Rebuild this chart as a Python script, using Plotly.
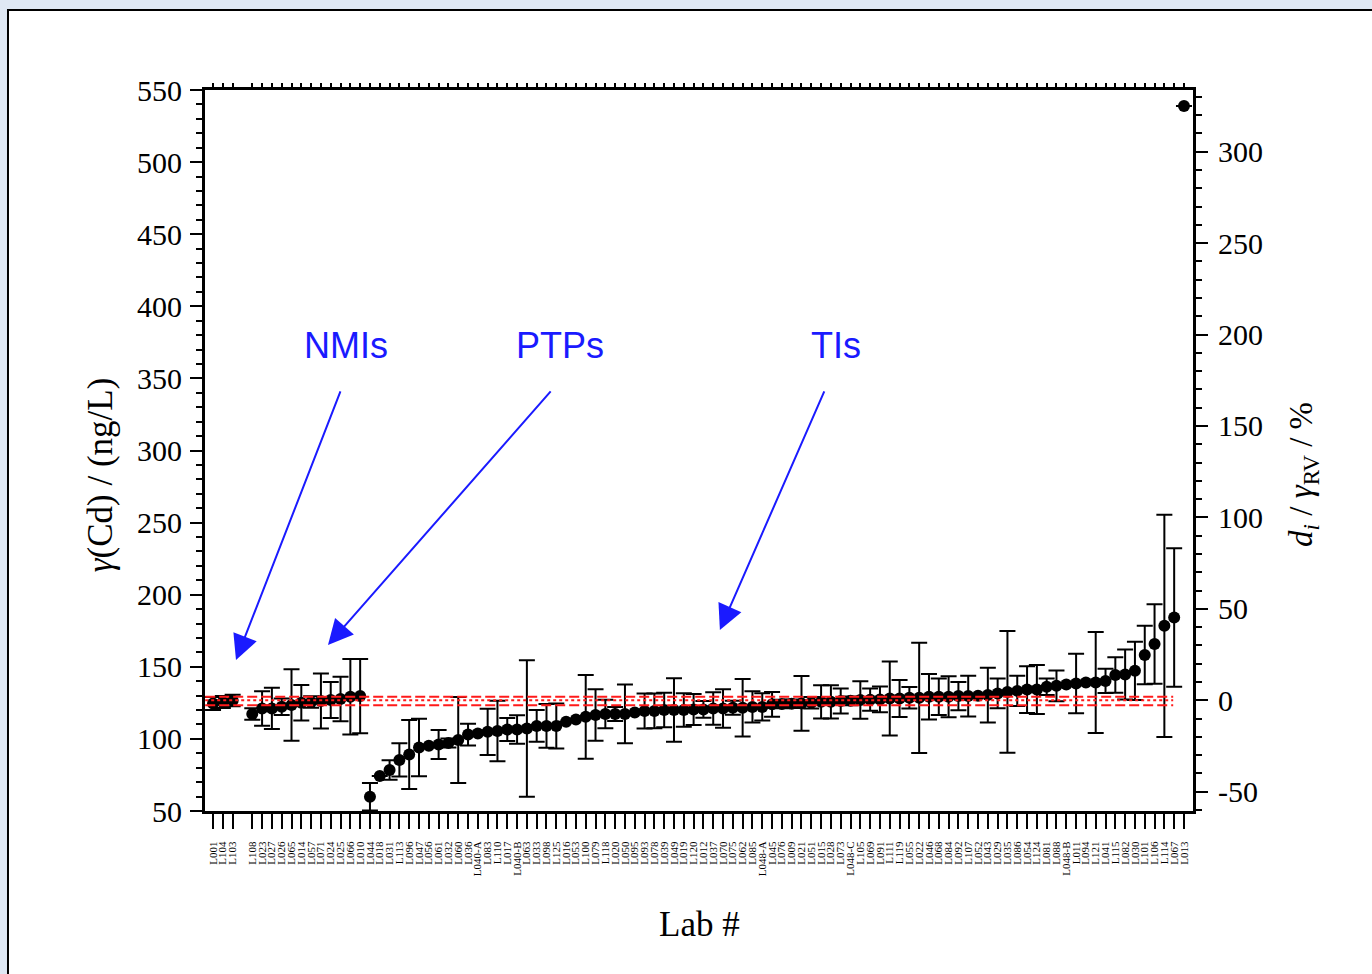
import plotly.graph_objects as go

# ---------------- data ----------------
labels = ["L001", "L104", "L103", "",
          "L108", "L023", "L027", "L026", "L065", "L014", "L057", "L071", "L024", "L025", "L066", "L010",
          "L044", "L018", "L031", "L113", "L096", "L047", "L056", "L061", "L032", "L060",
          "L036", "L040-A", "L083", "L110", "L017", "L040-B", "L063", "L033", "L098", "L125",
          "L016", "L053", "L100", "L079", "L118", "L020", "L050", "L095", "L093", "L078",
          "L039", "L049", "L019", "L120", "L012", "L037", "L070", "L075", "L062", "L085",
          "L048-A", "L045", "L076", "L009", "L021", "L051", "L015", "L028", "L073", "L048-C",
          "L105", "L069", "L091", "L111", "L119", "L055", "L022", "L046", "L068", "L084",
          "L092", "L107", "L052", "L043", "L029", "L035", "L086", "L054", "L124", "L081",
          "L088", "L048-B", "L011", "L094", "L121", "L041", "L115", "L082", "L030", "L101",
          "L106", "L114", "L067", "L013"]

values = [124.5, 125.6, 126.6, None,
          117.3, 121.1, 121.1, 122.3, 123.5, 125.0, 125.6, 126.3, 127.0, 127.7, 129.2, 129.7,
          59.9, 74.3, 78.4, 85.4, 89.2, 94.0, 95.2, 96.1, 97.2, 99.2,
          103.0, 103.7, 104.9, 105.5, 106.5, 106.5, 107.2, 109.0, 109.0, 109.0,
          111.9, 113.5, 115.3, 116.6, 117.3, 117.3, 117.3, 118.3, 119.3, 119.4,
          120.0, 120.0, 120.0, 120.4, 120.4, 121.1, 121.1, 121.6, 121.6, 122.2,
          122.2, 124.0, 124.2, 124.4, 124.6, 125.0, 125.7, 125.7, 126.3, 126.4,
          127.0, 127.2, 127.4, 128.0, 128.0, 128.5, 128.5, 129.2, 129.2, 129.2,
          129.7, 129.7, 129.9, 130.4, 131.5, 132.6, 133.3, 134.2, 134.2, 136.1,
          136.8, 137.7, 138.4, 139.1, 139.1, 140.2, 144.3, 144.7, 147.2, 158.2,
          165.8, 178.4, 184.2, 538.9]

uncertainty = [4.5, 4.2, 4.0, 0,
               4.0, 12.0, 14.3, 5.7, 24.8, 12.3, 4.0, 19.1, 12.5, 15.4, 26.2, 25.7,
               9.6, 0, 6.8, 11.5, 23.9, 19.9, 0, 10.1, 3.1, 29.8,
               7.5, 0, 16.0, 21.0, 8.0, 9.9, 47.4, 11.0, 15.2, 15.6,
               0, 0, 29.0, 17.9, 9.9, 4.9, 20.4, 0, 12.1, 12.1,
               12.0, 22.0, 11.6, 10.8, 5.8, 11.3, 13.3, 4.9, 20.0, 10.9,
               9.4, 8.6, 3.0, 3.0, 19.0, 4.0, 11.5, 11.5, 8.7, 3.0,
               13.0, 7.7, 9.0, 25.7, 12.8, 7.5, 38.2, 15.8, 12.7, 14.2,
               9.8, 14.1, 0, 19.0, 10.3, 42.2, 10.5, 16.2, 17.0, 5.7,
               10.7, 0, 20.6, 0, 35.0, 8.4, 12.3, 17.3, 20.2, 20.3,
               27.6, 77.0, 48.0, 0]

gamma_rv = 126.8          # reference value (ng/L)
ref_upper = 129.2
ref_lower = 123.4
ref_line_span = [0.2, 98.9]

y_range = [50, 550]
x_range = [0.18, 100.92]
d_ticks = [-50, 0, 50, 100, 150, 200, 250, 300]
d_ticktext = ["-50", "0", "50", "100", "150", "200", "250", "300"]

# ---------------- derived ----------------
positions = list(range(1, len(labels) + 1))
tick_pos = [p for p, l in zip(positions, labels) if l]
tick_txt = [l for l in labels if l]
d_range = [(y_range[0] / gamma_rv - 1) * 100, (y_range[1] / gamma_rv - 1) * 100]

SERIF = "Liberation Serif"
SANS = "Liberation Sans"
BLUE = "#1a1aff"
BG = "#dfe8f4"

fig = go.Figure()

fig.add_trace(go.Scatter(
    x=positions, y=values, mode="markers",
    marker=dict(color="black", size=12),
    error_y=dict(type="data", array=uncertainty, visible=True,
                 color="black", thickness=2, width=8),
    showlegend=False, hoverinfo="skip"))

for yv in (ref_upper, ref_lower):
    fig.add_trace(go.Scatter(
        x=ref_line_span, y=[yv, yv], mode="lines",
        line=dict(color="#ff1a1a", width=2, dash="10px,4px"),
        showlegend=False, hoverinfo="skip"))

# reference value line: d = 0 % on the right-hand scale
fig.add_trace(go.Scatter(
    x=ref_line_span, y=[0, 0], mode="lines", xaxis="x2", yaxis="y2",
    line=dict(color="#ff1a1a", width=2, dash="3px,3px"),
    showlegend=False, hoverinfo="skip"))

axis_common = dict(showgrid=False, zeroline=False, showline=True,
                   linecolor="black", linewidth=3, tickcolor="black")

fig.update_layout(
    width=1372, height=974,
    margin=dict(l=205, r=179, t=90, b=163, autoexpand=False),
    paper_bgcolor=BG, plot_bgcolor="white",
    xaxis=dict(range=x_range, tickmode="array", tickvals=tick_pos, ticktext=tick_txt,
               tickangle=-90, ticks="outside", ticklen=15, tickwidth=2,
               ticklabelstandoff=8, mirror=True,
               tickfont=dict(family=SERIF, size=11, color="black"), **axis_common),
    xaxis2=dict(range=x_range, overlaying="x", side="top", anchor="y",
                tickmode="array", tickvals=tick_pos, showticklabels=False,
                ticks="outside", ticklen=4, tickwidth=1.5, **axis_common),
    yaxis=dict(range=y_range, tickmode="linear", tick0=0, dtick=50,
               ticks="outside", ticklen=12, tickwidth=2, ticklabelstandoff=2,
               minor=dict(ticks="outside", ticklen=6, dtick=10, tick0=0, tickcolor="black", tickwidth=2),
               tickfont=dict(family=SERIF, size=30, color="black"), **axis_common),
    yaxis2=dict(range=d_range, overlaying="y", side="right", anchor="x",
                tickmode="array", tickvals=d_ticks, ticktext=d_ticktext,
                ticks="outside", ticklen=12, tickwidth=2, ticklabelstandoff=4,
                minor=dict(ticks="outside", ticklen=6, tickmode="linear", dtick=10, tick0=0,
                           tickcolor="black", tickwidth=2),
                tickfont=dict(family=SERIF, size=30, color="black"), **axis_common),
)

# slide-like frame behind the picture (left/top edges visible)
fig.add_shape(type="rect", xref="paper", yref="paper",
              x0=-0.1994, x1=1.3, y0=-0.35, y1=1.111,
              fillcolor="white", line=dict(color="black", width=2), layer="below")

# axis titles
fig.add_annotation(text="<i>γ</i>(Cd) / (ng/L)", xref="paper", yref="paper",
                   x=-0.1063, y=0.467, xanchor="center", yanchor="middle",
                   textangle=-90, showarrow=False,
                   font=dict(family=SERIF, size=35, color="black"))
fig.add_annotation(text="<i>d<sub>i</sub></i> / <i>γ</i><sub>RV</sub> / %", xref="paper", yref="paper",
                   x=1.112, y=0.467, xanchor="center", yanchor="middle",
                   textangle=-90, showarrow=False,
                   font=dict(family=SERIF, size=33, color="black"))
fig.add_annotation(text="Lab #", xref="paper", yref="paper",
                   x=0.501, y=-0.158, xanchor="center", yanchor="middle", showarrow=False,
                   font=dict(family=SERIF, size=35, color="black"))

# group labels with arrows
groups = [("NMIs", 14.56, 3.34, 154.7, 14.05),
          ("PTPs", 36.37, 12.72, 165.1, 35.56),
          ("TIs", 64.5, 52.68, 175.5, 63.39)]
for name, tx, hx, hy, sx in groups:
    fig.add_annotation(text=name, x=tx, y=373, xref="x", yref="y", showarrow=False,
                       font=dict(family=SANS, size=36, color=BLUE))
    fig.add_annotation(text="", x=hx, y=hy, ax=sx, ay=342, xref="x", yref="y",
                       axref="x", ayref="y", showarrow=True, arrowhead=2,
                       arrowsize=2.5, arrowwidth=2, arrowcolor=BLUE)

fig.write_html(
    "out.html",
    config={"displayModeBar": False},
    post_script=("document.body.style.margin='0';"
                 "document.body.style.overflow='hidden';"
                 "document.body.style.background='" + BG + "';"))
